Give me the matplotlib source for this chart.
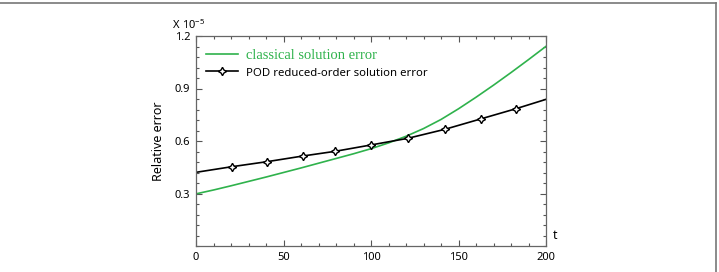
import numpy as np
import matplotlib
matplotlib.use('Agg')
import matplotlib.pyplot as plt
from matplotlib.lines import Line2D

# values (units of 1e-5)
t_classical = [0, 10, 20, 30, 40, 50, 60, 70, 80, 90, 100, 110, 120, 130,
               140, 150, 160, 170, 180, 190, 200]
err_classical = [0.298, 0.320, 0.344, 0.369, 0.394, 0.420, 0.446, 0.473,
                 0.500, 0.527, 0.556, 0.589, 0.627, 0.671, 0.723, 0.784,
                 0.850, 0.919, 0.991, 1.065, 1.141]

t_pod = [0, 20.4, 40.7, 60.9, 79.5, 99.8, 120.9, 142.3, 163, 183, 200]
err_pod = [0.421, 0.453, 0.482, 0.514, 0.541, 0.577, 0.615, 0.667, 0.727,
           0.785, 0.838]

xticks = [0, 50, 100, 150, 200]
yticks = [0.3, 0.6, 0.9, 1.2]
labels = ['classical solution error', 'POD reduced-order solution error']

green = '#2fb24c'
sans = 'Noto Sans'

fig = plt.figure(figsize=(7.19, 2.72), dpi=100)
ax = fig.add_axes([196/719, 1-246/272, 350/719, 210/272])

ax.plot(t_classical, err_classical, color=green, lw=1.2, label=labels[0])
ax.plot(t_pod, err_pod, color='black', lw=1.2, marker=(4, 1, 0), ms=6,
        mfc='white', mec='black', mew=1.0, markevery=slice(1, -1),
        label=labels[1])

ax.set_xlim(0, 200)
ax.set_ylim(0, 1.2)
ax.set_xticks(xticks)
ax.set_xticklabels([str(v) for v in xticks], fontfamily=sans, fontsize=8)
ax.set_yticks(yticks)
ax.set_yticklabels(['%.1f' % v for v in yticks], fontfamily=sans, fontsize=8)
ax.set_xticks(np.arange(0, 201, 10), minor=True)
ax.set_yticks(np.arange(0, 1.21, 0.06), minor=True)
ax.tick_params(which='both', direction='in', top=True, right=True,
               color='#555555', width=0.8)
ax.tick_params(which='major', length=4, pad=4)
ax.tick_params(which='minor', length=2.5)
for s in ax.spines.values():
  s.set_color('#666666')
  s.set_linewidth(0.9)

ax.set_ylabel('Relative error', fontfamily=sans, fontsize=9, labelpad=7)
ax.text(1.026, 0.02, 't', transform=ax.transAxes, fontfamily=sans,
        fontsize=9, ha='center', va='bottom')
ax.text(-0.07, 1.02, r'$\mathregular{X\ 10^{-5}}$', transform=ax.transAxes,
        fontfamily=sans, fontsize=8, ha='left', va='bottom')

leg = ax.legend(loc='upper left', frameon=False, handlelength=2.3,
                handletextpad=0.6, labelspacing=0.3,
                bbox_to_anchor=(0.0, 0.985), borderaxespad=0.3)
t0, t1 = leg.get_texts()
t0.set_fontfamily('Liberation Serif')
t0.set_fontsize(10.5)
t0.set_color(green)
t1.set_fontfamily(sans)
t1.set_fontsize(8.2)

# outer frame of the figure panel
fig.add_artist(Line2D([0.0, 0.996], [0.989, 0.989], transform=fig.transFigure,
                      color='#777777', lw=1.2))
fig.add_artist(Line2D([0.996, 0.996], [0.0, 0.989], transform=fig.transFigure,
                      color='#777777', lw=1.2))

fig.savefig('out.png', dpi=100)
